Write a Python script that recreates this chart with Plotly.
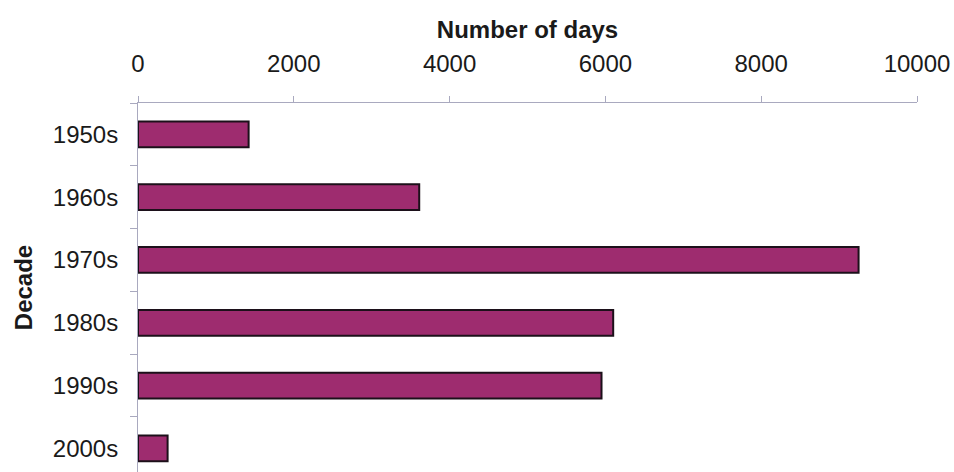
import plotly.graph_objects as go

decades = ["1950s", "1960s", "1970s", "1980s", "1990s", "2000s"]
days = [1420, 3610, 9250, 6100, 5950, 380]
x_ticks = [0, 2000, 4000, 6000, 8000, 10000]
x_tick_labels = ["0", "2000", "4000", "6000", "8000", "10000"]

fig = go.Figure(go.Bar(
    y=decades, x=days, orientation="h", width=0.41,
    marker=dict(color="#9e2c6f", line=dict(color="#1c101a", width=2)),
))

fig.update_layout(
    width=954, height=472,
    margin=dict(l=138, r=37, t=103, b=0),
    paper_bgcolor="white", plot_bgcolor="white",
    font=dict(family="Liberation Sans, Arial, sans-serif", size=24, color="#1a1a1a"),
    showlegend=False,
    xaxis=dict(
        side="top", range=[0, 10000], tickvals=x_ticks, ticktext=x_tick_labels,
        showgrid=False, zeroline=False,
        showline=True, linecolor="#a9a9bf", linewidth=1,
        ticks="outside", ticklen=6, tickcolor="#a9a9bf",
        ticklabelstandoff=14,
        title=dict(text="<b>Number of days</b>", font=dict(size=24), standoff=5),
    ),
    yaxis=dict(
        categoryorder="array", categoryarray=decades,
        range=[5.376, -0.5], autorange=False,
        showgrid=False, zeroline=False,
        showline=True, linecolor="#a9a9bf", linewidth=1,
        ticks="outside", ticklen=7, tickcolor="#a9a9bf", tickson="boundaries",
        ticklabelstandoff=14,
        title=dict(text="<b>Decade</b>", font=dict(size=24), standoff=13),
    ),
)

fig.write_html("out.html")
